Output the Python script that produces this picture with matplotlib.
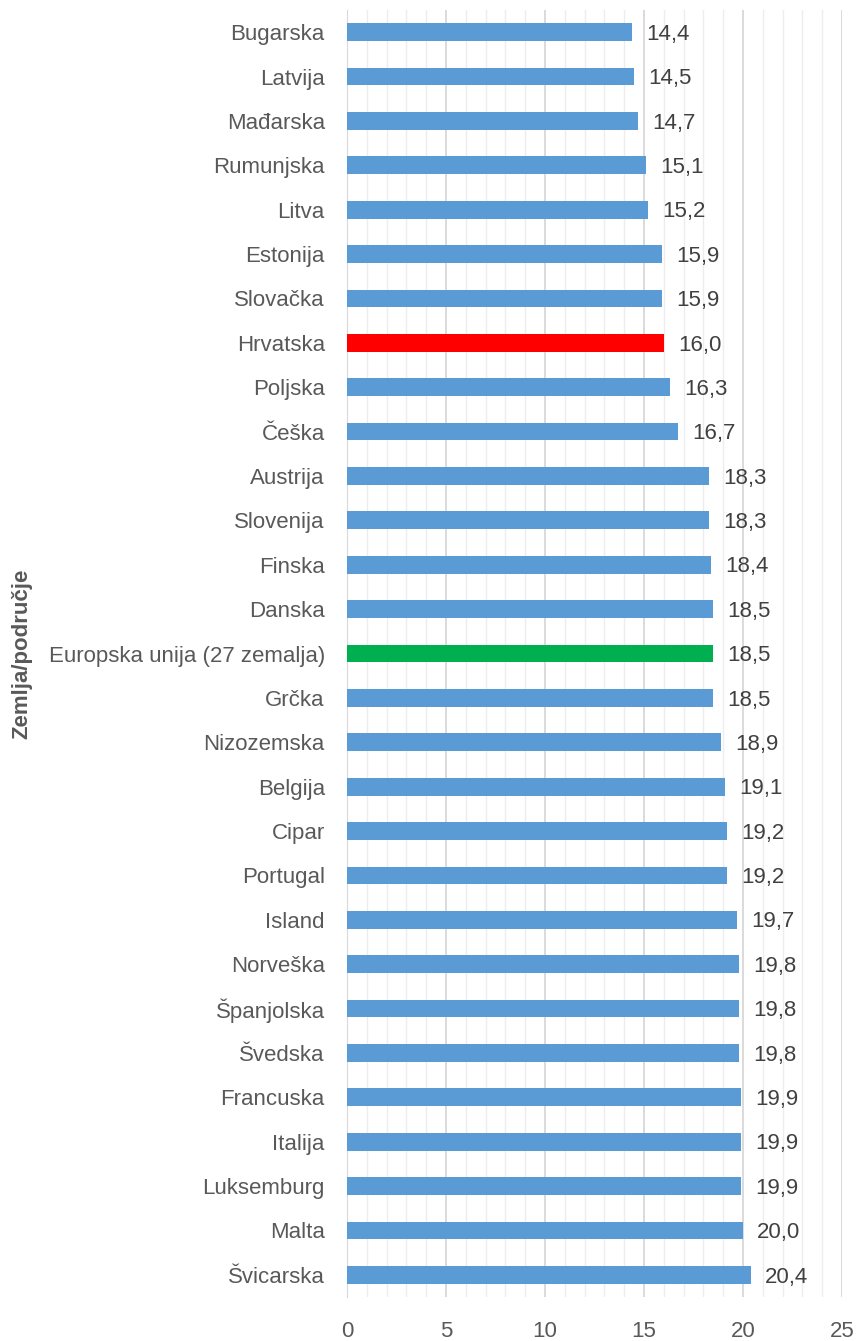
import matplotlib.pyplot as plt
from matplotlib.ticker import MultipleLocator

plt.rcParams['font.family'] = ['Liberation Sans', 'DejaVu Sans']

countries = ['Bugarska', 'Latvija', 'Mađarska', 'Rumunjska', 'Litva', 'Estonija',
             'Slovačka', 'Hrvatska', 'Poljska', 'Češka', 'Austrija', 'Slovenija',
             'Finska', 'Danska', 'Europska unija (27 zemalja)', 'Grčka', 'Nizozemska',
             'Belgija', 'Cipar', 'Portugal', 'Island', 'Norveška', 'Španjolska',
             'Švedska', 'Francuska', 'Italija', 'Luksemburg', 'Malta', 'Švicarska']
values = [14.4, 14.5, 14.7, 15.1, 15.2, 15.9, 15.9, 16.0, 16.3, 16.7, 18.3, 18.3,
          18.4, 18.5, 18.5, 18.5, 18.9, 19.1, 19.2, 19.2, 19.7, 19.8, 19.8, 19.8,
          19.9, 19.9, 19.9, 20.0, 20.4]
highlight = {'Hrvatska': '#FF0000', 'Europska unija (27 zemalja)': '#00B050'}

colors = [highlight.get(c, '#5B9BD5') for c in countries]

fig = plt.figure(figsize=(8.59, 13.41), dpi=100)
ax = fig.add_axes([347 / 859, 1 - 1297 / 1341, (842 - 347) / 859, (1297 - 10) / 1341])

y = list(range(len(countries)))
ax.barh(y, values, height=0.4, color=colors, zorder=3)

for yi, v in zip(y, values):
    ax.text(v + 0.72, yi + 0.05, f'{v:.1f}'.replace('.', ','), va='center', ha='left',
            fontsize=16, color='#404040')

ax.set_xlim(0, 25)
ax.set_ylim(len(countries) - 0.5, -0.5)
ax.set_yticks(y)
ax.set_yticklabels(countries, fontsize=16, color='#595959')
ax.xaxis.set_major_locator(MultipleLocator(5))
ax.xaxis.set_minor_locator(MultipleLocator(1))
ax.tick_params(axis='x', which='both', length=0, labelsize=16, labelcolor='#595959', pad=17)
ax.tick_params(axis='y', length=0, pad=16)
ax.grid(axis='x', which='major', color='#D4D4D4', linewidth=1.2, zorder=0)
ax.grid(axis='x', which='minor', color='#EDEDED', linewidth=1.0, zorder=0)

for side in ['top', 'right', 'bottom']:
    ax.spines[side].set_visible(False)
ax.spines['left'].set_color('#D9D9D9')

ax.set_ylabel('Zemlja/područje', fontsize=16, fontweight='bold', color='#595959')
ax.yaxis.set_label_coords(-315 / 495, 0.5)

fig.savefig('out.png', dpi=100)
